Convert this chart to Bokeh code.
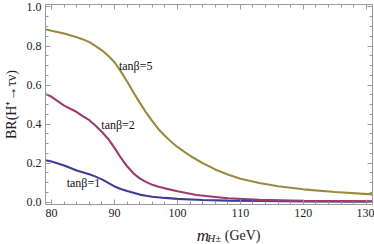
from bokeh.plotting import figure
from bokeh.layouts import column
from bokeh.models import LinearAxis, FixedTicker, Range1d, PrintfTickFormatter
from bokeh.core.properties import value
from bokeh.embed import file_html
from bokeh.resources import INLINE

# ---- data ----
m1 = [79, 80, 82, 84, 86, 87, 88, 89, 90, 91, 92, 93, 94, 95, 96, 98, 100, 104, 108, 113, 120, 131]
br1 = [0.215, 0.209, 0.188, 0.162, 0.143, 0.131, 0.117, 0.099, 0.081, 0.068, 0.057, 0.048, 0.039,
       0.033, 0.028, 0.022, 0.017, 0.011, 0.008, 0.006, 0.004, 0.003]

m2 = [79, 80, 82, 84, 85, 86, 87, 88, 89, 90, 91, 92, 93, 94, 95, 96, 97, 98, 100, 103, 108, 113, 120, 131]
br2 = [0.555, 0.54, 0.495, 0.462, 0.44, 0.42, 0.392, 0.36, 0.324, 0.278, 0.228, 0.184, 0.148,
       0.122, 0.104, 0.089, 0.079, 0.071, 0.056, 0.037, 0.02, 0.012, 0.007, 0.005]

m5 = [79, 80, 82, 84, 85, 86, 87, 88, 89, 90, 91, 92, 93, 94, 95, 96, 97, 98, 99, 100, 101, 102,
      104, 106, 108, 110, 113, 116, 120, 125, 131]
br5 = [0.886, 0.878, 0.864, 0.845, 0.834, 0.82, 0.80, 0.778, 0.75, 0.717, 0.67, 0.618, 0.563,
       0.51, 0.46, 0.415, 0.374, 0.34, 0.31, 0.283, 0.26, 0.238, 0.2, 0.168, 0.142, 0.12, 0.098,
       0.082, 0.066, 0.052, 0.040]

series_labels = ["tan\u03b2=1", "tan\u03b2=2", "tan\u03b2=5"]
label_x = [82.4, 87.9, 90.7]
label_y = [0.10, 0.395, 0.70]

x_ticks = [80, 90, 100, 110, 120, 130]
x_minor = list(range(80, 132, 2))
y_ticks = [0.0, 0.2, 0.4, 0.6, 0.8, 1.0]
y_minor = [i * 0.05 for i in range(0, 21)]

x_title_parts = ["m", "H\u00b1", "(GeV)"]

colors = ["#3D3D99", "#993D71", "#998B3D"]
FONT = "Liberation Serif"
FRAME = "#9a9a9a"
TXT = "#222222"

p = figure(width=374, height=222,
           x_range=Range1d(79.03, 131.0), y_range=Range1d(-0.0117, 1.0127),
           output_backend="svg", toolbar_location=None,
           min_border_left=40, min_border_right=2, min_border_top=4, min_border_bottom=18)
p.outline_line_color = None
p.xgrid.visible = False
p.ygrid.visible = False
p.background_fill_color = "white"

for xs, ys, c in zip([m1, m2, m5], [br1, br2, br5], colors):
    p.line(xs, ys, line_color=c, line_width=2.1)

def style_axis(ax, ticks, minor, show_labels):
    ax.ticker = FixedTicker(ticks=ticks, minor_ticks=minor)
    ax.axis_line_color = FRAME
    ax.major_tick_line_color = FRAME
    ax.minor_tick_line_color = FRAME
    ax.major_tick_in = 5
    ax.major_tick_out = 0
    ax.minor_tick_in = 3
    ax.minor_tick_out = 0
    ax.major_label_text_font = FONT
    ax.major_label_text_color = TXT
    if show_labels:
        ax.major_label_text_font_size = "12px"
    else:
        ax.major_label_text_font_size = "0px"
        ax.major_label_text_color = None
        ax.major_label_standoff = 0

xa = p.xaxis[0]
style_axis(xa, x_ticks, x_minor, True)
xa.major_label_standoff = 4

ya = p.yaxis[0]
style_axis(ya, y_ticks, y_minor, True)
ya.formatter = PrintfTickFormatter(format="%.1f")
ya.major_label_standoff = 4
ya.axis_label = "BR(H\u207a\u2192\u03c4\u03bd)"
ya.axis_label_text_font = FONT
ya.axis_label_text_font_style = "normal"
ya.axis_label_text_font_size = "14px"
ya.axis_label_text_color = TXT
ya.axis_label_standoff = 5

top = LinearAxis()
style_axis(top, x_ticks, x_minor, False)
p.add_layout(top, "above")
right = LinearAxis()
style_axis(right, y_ticks, y_minor, False)
p.add_layout(right, "right")

# curve labels
p.text(x=label_x, y=label_y, text=series_labels, text_font=value(FONT),
       text_font_size="12px", text_baseline="middle", text_align="left", text_color="#111111")

# strip below the plot holding the x-axis title m_{H±}(GeV) (pixel coordinates)
q = figure(width=374, height=22, x_range=Range1d(0, 374), y_range=Range1d(22, 0),
           output_backend="svg", toolbar_location=None, x_axis_type=None, y_axis_type=None,
           min_border=0)
q.outline_line_color = None
q.background_fill_color = "white"
q.text(x=[173], y=[13], text=[x_title_parts[0]], text_font=value(FONT),
       text_font_style="italic", text_font_size="17px", text_baseline="alphabetic",
       text_color=TXT)
q.text(x=[185], y=[15.5], text=[x_title_parts[1]], text_font=value(FONT),
       text_font_style="italic", text_font_size="11px", text_baseline="alphabetic",
       text_color=TXT)
q.text(x=[205], y=[13], text=[x_title_parts[2]], text_font=value(FONT),
       text_font_size="14px", text_baseline="alphabetic", text_color=TXT)

layout = column(p, q, spacing=0)
open("out.html", "w").write(file_html(layout, INLINE))
